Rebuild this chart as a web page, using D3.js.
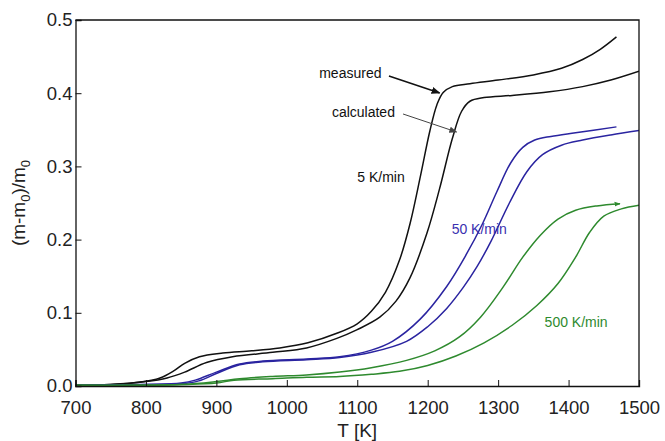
<!DOCTYPE html>
<html>
<head>
<meta charset="utf-8">
<script src="https://cdn.jsdelivr.net/npm/d3@7"></script>
<style>
  body { margin: 0; background: #fff; }
  text { font-family: "Liberation Sans", Arial, sans-serif; }
</style>
</head>
<body>
<svg id="chart" width="665" height="441"></svg>
<script>
// 5 K/min
var m5T = [700, 750, 790, 820, 840, 855, 876, 909, 950, 990, 1030, 1071, 1100, 1120, 1140, 1160, 1175, 1190, 1203, 1213, 1222, 1235, 1260, 1300, 1350, 1390, 1420, 1445, 1468];
var m5V = [0.001, 0.002, 0.005, 0.011, 0.021, 0.031, 0.040, 0.045, 0.048, 0.052, 0.059, 0.072, 0.085, 0.102, 0.128, 0.172, 0.222, 0.288, 0.348, 0.384, 0.401, 0.409, 0.413, 0.418, 0.425, 0.434, 0.446, 0.460, 0.477];
var c5T = [700, 750, 800, 830, 855, 886, 923, 980, 1028, 1071, 1100, 1132, 1155, 1175, 1199, 1217, 1235, 1248, 1260, 1280, 1320, 1373, 1420, 1460, 1500];
var c5V = [0.001, 0.002, 0.006, 0.011, 0.019, 0.032, 0.040, 0.046, 0.052, 0.065, 0.077, 0.094, 0.116, 0.148, 0.209, 0.270, 0.338, 0.375, 0.389, 0.394, 0.397, 0.402, 0.409, 0.418, 0.430];
// 50 K/min
var m50T = [700, 800, 850, 870, 900, 933, 966, 1028, 1075, 1120, 1150, 1189, 1227, 1255, 1278, 1298, 1318, 1335, 1352, 1375, 1410, 1468];
var m50V = [0.001, 0.002, 0.004, 0.008, 0.019, 0.030, 0.034, 0.037, 0.040, 0.049, 0.061, 0.091, 0.136, 0.180, 0.222, 0.265, 0.305, 0.326, 0.336, 0.341, 0.346, 0.354];
var c50T = [700, 800, 850, 875, 900, 933, 966, 1028, 1075, 1120, 1170, 1200, 1227, 1250, 1270, 1290, 1316, 1341, 1363, 1390, 1420, 1460, 1500];
var c50V = [0.001, 0.002, 0.003, 0.007, 0.017, 0.029, 0.033, 0.036, 0.039, 0.046, 0.061, 0.081, 0.106, 0.134, 0.163, 0.198, 0.250, 0.293, 0.316, 0.329, 0.336, 0.343, 0.349];
// 500 K/min
var m500T = [700, 850, 900, 933, 980, 1028, 1075, 1120, 1170, 1210, 1245, 1275, 1307, 1335, 1360, 1385, 1410, 1440, 1473];
var m500V = [0.001, 0.002, 0.006, 0.010, 0.013, 0.015, 0.019, 0.025, 0.035, 0.048, 0.067, 0.094, 0.135, 0.176, 0.206, 0.228, 0.240, 0.246, 0.249];
var c500T = [700, 850, 900, 925, 980, 1028, 1075, 1120, 1160, 1200, 1240, 1280, 1320, 1355, 1385, 1410, 1430, 1450, 1475, 1500];
var c500V = [0.001, 0.002, 0.004, 0.008, 0.010, 0.012, 0.013, 0.016, 0.020, 0.028, 0.041, 0.059, 0.083, 0.110, 0.140, 0.176, 0.210, 0.232, 0.242, 0.247];

var xTicks = [700, 800, 900, 1000, 1100, 1200, 1300, 1400, 1500];
var yTicks = [0.0, 0.1, 0.2, 0.3, 0.4, 0.5];

var svg = d3.select('#chart');
var x = d3.scaleLinear().domain([700, 1500]).range([75.5, 639]);
var y = d3.scaleLinear().domain([0, 0.5]).range([386, 20]);

var series = [
  {T: m5T, V: m5V, color: '#111'},
  {T: c5T, V: c5V, color: '#111'},
  {T: m50T, V: m50V, color: '#2a24a0'},
  {T: c50T, V: c50V, color: '#2a24a0'},
  {T: m500T, V: m500V, color: '#2e8a2e'},
  {T: c500T, V: c500V, color: '#2e8a2e'}
];

var line = d3.line()
  .x(function(d){ return x(d[0]); })
  .y(function(d){ return y(d[1]); })
  .curve(d3.curveCatmullRom.alpha(0.5));

var defs = svg.append('defs');
function marker(id, color, size) {
  defs.append('marker')
    .attr('id', id).attr('viewBox', '0 0 10 10')
    .attr('refX', 9).attr('refY', 5)
    .attr('markerWidth', size).attr('markerHeight', size)
    .attr('markerUnits', 'userSpaceOnUse')
    .attr('orient', 'auto')
    .append('path').attr('d', 'M0,1 L10,5 L0,9 Z').attr('fill', color);
}
marker('arrBlack', '#111', 9);
marker('arrGray', '#444', 8);
marker('arrGreen', '#2e8a2e', 6);

var plot = svg.append('g');
plot.append('clipPath').attr('id', 'clip')
  .append('rect').attr('x', 75.5).attr('y', 20).attr('width', 563.5).attr('height', 366);

series.forEach(function(s, i) {
  plot.append('path')
    .datum(s.T.map(function(t, j){ return [t, s.V[j]]; }))
    .attr('d', line)
    .attr('fill', 'none')
    .attr('stroke', s.color)
    .attr('stroke-width', 1.5)
    .attr('clip-path', 'url(#clip)')
    .attr('marker-end', i === 4 ? 'url(#arrGreen)' : null);
});

// axes
var gx = svg.append('g').attr('transform', 'translate(0,386)');
gx.call(d3.axisBottom(x).tickValues(d3.range(700, 1501, 50)).tickSize(-3).tickFormat(''));
gx.call(d3.axisBottom(x).tickValues(xTicks).tickSize(-6).tickPadding(10).tickFormat(d3.format('d')));
var gy = svg.append('g').attr('transform', 'translate(75.5,0)');
gy.call(d3.axisLeft(y).tickValues(d3.range(0, 0.5001, 0.025)).tickSize(-3).tickFormat(''));
gy.call(d3.axisLeft(y).tickValues(yTicks).tickSize(-6).tickPadding(3).tickFormat(d3.format('.1f')));
svg.selectAll('.domain').attr('stroke', '#111').attr('stroke-width', 1.3);
svg.selectAll('.tick line').attr('stroke', '#111');
svg.selectAll('.tick text').attr('font-size', 18.5).attr('fill', '#222')
  .attr('font-family', '"Liberation Sans", Arial, sans-serif');
gx.selectAll('.tick text').attr('dy', '0.95em');

// frame top and right
svg.append('path')
  .attr('d', 'M' + x(700) + ',' + y(0.5) + 'H' + x(1500) + 'V' + y(0))
  .attr('fill', 'none').attr('stroke', '#111').attr('stroke-width', 1.3);

// axis titles
svg.append('text').attr('x', x(1100)).attr('y', 437)
  .attr('text-anchor', 'middle').attr('font-size', 19).attr('fill', '#222').text('T [K]');

var yl = svg.append('text')
  .attr('transform', 'translate(25,' + y(0.25) + ') rotate(-90)')
  .attr('text-anchor', 'middle').attr('font-size', 19).attr('fill', '#222');
yl.append('tspan').text('(m-m');
yl.append('tspan').attr('font-size', 13).attr('dy', 5).text('0');
yl.append('tspan').attr('dy', -5).text(')/m');
yl.append('tspan').attr('font-size', 13).attr('dy', 5).text('0');

// annotations
var labels = [
  {text: 'measured', T: 1046, v: 0.421, color: '#111'},
  {text: 'calculated', T: 1064, v: 0.3675, color: '#111'},
  {text: '5 K/min', T: 1100, v: 0.279, color: '#111'},
  {text: '50 K/min', T: 1234, v: 0.2077, color: '#3a30b0'},
  {text: '500 K/min', T: 1366, v: 0.0806, color: '#2e8a2e'}
];
svg.selectAll('.lbl').data(labels).enter().append('text')
  .attr('class', 'lbl')
  .attr('x', function(d){ return x(d.T); })
  .attr('y', function(d){ return y(d.v); })
  .attr('font-size', 14)
  .attr('fill', function(d){ return d.color; })
  .text(function(d){ return d.text; });

var arrows = [
  {T1: 1145, v1: 0.4235, T2: 1217, v2: 0.4003, color: '#111', w: 1.5, m: 'arrBlack'},
  {T1: 1165, v1: 0.3716, T2: 1241, v2: 0.347, color: '#444', w: 1, m: 'arrGray'}
];
svg.selectAll('.arr').data(arrows).enter().append('line')
  .attr('class', 'arr')
  .attr('x1', function(d){ return x(d.T1); })
  .attr('y1', function(d){ return y(d.v1); })
  .attr('x2', function(d){ return x(d.T2); })
  .attr('y2', function(d){ return y(d.v2); })
  .attr('stroke', function(d){ return d.color; })
  .attr('stroke-width', function(d){ return d.w; })
  .attr('marker-end', function(d){ return 'url(#' + d.m + ')'; });
</script>
</body>
</html>
